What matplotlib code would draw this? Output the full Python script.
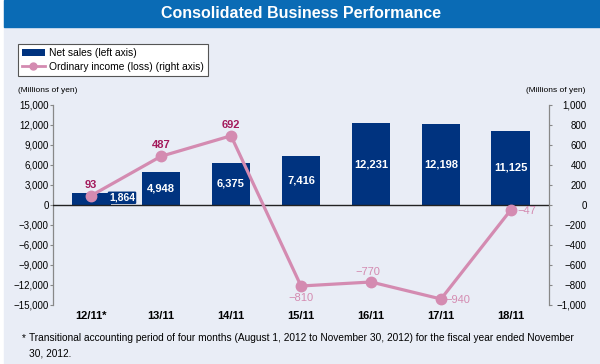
import matplotlib
matplotlib.use('Agg')
import matplotlib.pyplot as plt
from matplotlib.patches import Rectangle, Patch
from matplotlib.lines import Line2D

plt.rcParams['font.family'] = ['Liberation Sans', 'DejaVu Sans']

# data
years = ['12/11*', '13/11', '14/11', '15/11', '16/11', '17/11', '18/11']
net_sales = [1864, 4948, 6375, 7416, 12231, 12198, 11125]
ordinary_income = [93, 487, 692, -810, -770, -940, -47]
left_ticks = [-15000, -12000, -9000, -6000, -3000, 0, 3000, 6000, 9000, 12000, 15000]
right_ticks = [-1000, -800, -600, -400, -200, 0, 200, 400, 600, 800, 1000]
# label offsets (pixels) for the line values
inc_offsets = [(0, 11), (0, 11), (0, 11), (0, -12), (-3, 10), (17, -1), (16, -1)]

navy = '#00337f'
pink = '#d48bb1'
magenta = '#a3195b'
bg = '#e9edf6'
W, H = 600, 364

fig = plt.figure(figsize=(6, 3.64), dpi=100)
fig.patch.set_facecolor('white')

# background panel + title bar
fig.add_artist(Rectangle((4 / W, 0), 1, 1, transform=fig.transFigure, color=bg, zorder=-10))
fig.add_artist(Rectangle((4 / W, 1 - 27 / H), 1, 27 / H, transform=fig.transFigure,
                         color='#0a6bb5', zorder=-9))
fig.text(301 / W, 1 - 13.5 / H, 'Consolidated Business Performance', color='white',
         fontsize=11.5, fontweight='bold', ha='center', va='center')

ax = fig.add_axes([53 / W, 1 - 305 / H, 496 / W, 200 / H])
ax.set_facecolor('none')
x = list(range(len(years)))

ax.bar(x, net_sales, width=0.557, color=navy, zorder=2)
ax.axhline(0, color='#222222', lw=1, zorder=3)
ax.set_xlim(-0.543, len(years) - 1 + 0.543)
ax.set_ylim(-15000, 15000)
ax.set_yticks(left_ticks)
ax.set_yticklabels([f'{v:,}'.replace('-', '\u2212') for v in left_ticks], fontsize=7)
ax.tick_params(axis='y', length=2, width=0.8, color='#888888', pad=1)
ax.set_xticks(x)
ax.set_xticklabels(years, fontsize=8, fontweight='bold')
ax.tick_params(axis='x', length=0, pad=4)
for s in ['top', 'bottom', 'right']:
    ax.spines[s].set_visible(False)
ax.spines['left'].set_color('#888888')
ax.spines['left'].set_linewidth(0.9)

for i, v in enumerate(net_sales):
    if v < 3000:
        ax.annotate(f'{v:,}', xy=(i, v / 2), xytext=(31, 1), textcoords='offset pixels',
                    ha='center', va='center', color='white', fontsize=7.5, fontweight='bold',
                    zorder=4, bbox=dict(boxstyle='round,pad=0.12', fc=navy, ec='none'))
    else:
        ax.text(i, v / 2, f'{v:,}', ha='center', va='center', color='white',
                fontsize=8, fontweight='bold', zorder=4)

ax2 = ax.twinx()
ax2.set_ylim(-1000, 1000)
ax2.plot(x, ordinary_income, color=pink, lw=2.3, marker='o', ms=7.5, zorder=5,
         solid_capstyle='round')
ax2.set_yticks(right_ticks)
ax2.set_yticklabels([f'{v:,}'.replace('-', '\u2212') for v in right_ticks], fontsize=7)
ax2.tick_params(axis='y', length=2, width=0.8, color='#888888', pad=25)
for lab in ax2.get_yticklabels():
    lab.set_horizontalalignment('right')
for s in ['top', 'bottom', 'left']:
    ax2.spines[s].set_visible(False)
ax2.spines['right'].set_color('#888888')
ax2.spines['right'].set_linewidth(0.9)

for i, (v, off) in enumerate(zip(ordinary_income, inc_offsets)):
    ax2.annotate(f'{v:,}'.replace('-', '\u2212'), xy=(i, v), xytext=off,
                 textcoords='offset pixels', ha='center', va='center', fontsize=8,
                 fontweight='bold' if v > 0 else 'normal',
                 color=magenta if v > 0 else pink, zorder=6)

# axis unit labels
fig.text(18 / W, 1 - 90 / H, '(Millions of yen)', fontsize=6, ha='left', va='center')
fig.text(585 / W, 1 - 90 / H, '(Millions of yen)', fontsize=6, ha='right', va='center')

# legend
handles = [Patch(facecolor=navy, edgecolor='none'),
           Line2D([], [], color=pink, lw=2, marker='o', ms=5)]
leg = fig.legend(handles, ['Net sales (left axis)', 'Ordinary income (loss) (right axis)'],
                 loc='upper left', bbox_to_anchor=(18 / W, 1 - 44 / H), fontsize=7.4,
                 frameon=True, fancybox=False, edgecolor='#555555', framealpha=1,
                 handlelength=2.2, handleheight=0.6, handletextpad=0.4,
                 borderpad=0.4, labelspacing=0.35, borderaxespad=0)
leg.get_frame().set_linewidth(0.8)

# footnote
fig.text(22 / W, 1 - 338 / H, '*', fontsize=7.3, ha='left', va='center')
fig.text(29 / W, 1 - 338 / H,
         'Transitional accounting period of four months (August 1, 2012 to November 30, 2012) '
         'for the fiscal year ended November', fontsize=7.3, ha='left', va='center')
fig.text(29 / W, 1 - 353 / H, '30, 2012.', fontsize=7.3, ha='left', va='center')

fig.savefig('out.png', dpi=100)
